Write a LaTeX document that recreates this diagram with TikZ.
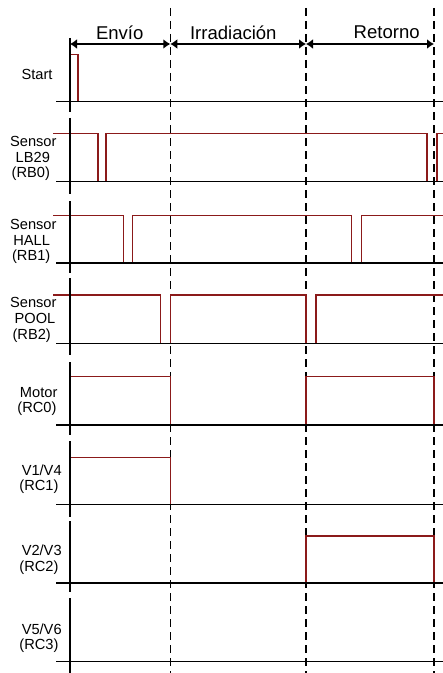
\documentclass[tikz,border=0pt]{standalone}
\usepackage{fontspec}
\setmainfont{Liberation Sans}
\usetikzlibrary{arrows.meta}
\definecolor{sig}{RGB}{139,26,26}
\begin{document}
\begin{tikzpicture}[x=1bp,y=-1bp,
  lab/.style={font=\fontsize{14.7}{15.3}\selectfont, anchor=base, inner sep=0pt},
  head/.style={font=\fontsize{18.6}{20}\selectfont, anchor=base, inner sep=0pt},
  dashln/.style={black, line width=1.4bp, dash pattern=on 8bp off 5bp},
  sigln/.style={sig, line width=1.4bp},
  baseln/.style={black, line width=1.3bp},
  axisln/.style={black, line width=1.6bp},
  arr/.style={black, line width=1.5bp, {Latex[length=7bp,width=10bp]}-{Latex[length=7bp,width=10bp]}}
]
\useasboundingbox (0,0) rectangle (443,673);

% phase boundaries
\coordinate (d1t) at (170.3,8);   \coordinate (d1b) at (170.3,673);
\coordinate (d2t) at (306,8);     \coordinate (d2b) at (306,673);
\coordinate (d3t) at (434,8);     \coordinate (d3b) at (434,673);
\draw[dashln] (d1t) -- (d1b);
\draw[dashln] (d2t) -- (d2b);
\draw[dashln] (d3t) -- (d3b);

% phase arrows
\coordinate (a0) at (70,44);
\coordinate (a1) at (170.3,44);
\coordinate (a2) at (306,44);
\coordinate (a3) at (434,44);
\draw[arr] (a0) -- (a1);
\draw[arr] (a1) -- (a2);
\draw[arr] (a2) -- (a3);
\node[head] (hEnv) at (119.7,40) {Envío};
\node[head] (hIrr) at (233.3,40) {Irradiación};
\node[head] (hRet) at (386.7,38.5) {Retorno};

% signals
\draw[sigln] (70,101.7) -- (70,54.3) -- (78,54.3) -- (78,101.7);
\draw[sigln] (53,133.3) -- (98,133.3) -- (98,181.7) -- (106,181.7) -- (106,133.3)
   -- (427,133.3) -- (427,181.7) -- (437,181.7) -- (437,133.3) -- (443,133.3);
\draw[sigln] (53,215.7) -- (123.3,215.7) -- (123.3,263) -- (132.3,263) -- (132.3,215.7)
   -- (351.3,215.7) -- (351.3,263) -- (361.7,263) -- (361.7,215.7) -- (443,215.7);
\draw[sigln] (53,295) -- (160.3,295) -- (160.3,343.3) -- (170.3,343.3) -- (170.3,295)
   -- (306,295) -- (306,343.3) -- (316,343.3) -- (316,295) -- (443,295);
\draw[sigln] (70,425) -- (70,376.7) -- (170.3,376.7) -- (170.3,425);
\draw[sigln] (306,425) -- (306,376.7) -- (434,376.7) -- (434,425);
\draw[sigln] (70,504.5) -- (70,457.7) -- (170.3,457.7) -- (170.3,504.5);
\draw[sigln] (306,583) -- (306,536) -- (434,536) -- (434,583);

% baselines
\foreach \y in {101.7,181.7,263,343.3,425,504.5,583,661.7}
  \draw[baseln] (56,\y) -- (443,\y);

% time axis segments
\foreach \a/\b in {38/112,118/194,201/273,278/355,362/435,441/517,521/592,598/673}
  \draw[axisln] (70,\a) -- (70,\b);

% labels
\node[lab] (l1) at (37,79.5) {Start};

\node[lab] (l2a) at (33.3,146.7) {Sensor};
\node[lab] (l2b) at (32.8,162) {LB29};
\node[lab] (l2c) at (30.8,177.3) {(RB0)};

\node[lab] (l3a) at (33.3,229.2) {Sensor};
\node[lab] (l3b) at (31.7,245) {HALL};
\node[lab] (l3c) at (31.2,260.5) {(RB1)};

\node[lab] (l4a) at (33.3,307.9) {Sensor};
\node[lab] (l4b) at (35,323.5) {POOL};
\node[lab] (l4c) at (31.7,339) {(RB2)};

\node[lab] (l5a) at (38.7,397.9) {Motor};
\node[lab] (l5b) at (37,412.5) {(RC0)};

\node[lab] (l6a) at (41.7,475.2) {V1/V4};
\node[lab] (l6b) at (39,490.5) {(RC1)};

\node[lab] (l7a) at (41.7,555.9) {V2/V3};
\node[lab] (l7b) at (39,571.2) {(RC2)};

\node[lab] (l8a) at (41.7,634.5) {V5/V6};
\node[lab] (l8b) at (39,649.8) {(RC3)};
\end{tikzpicture}
\end{document}
